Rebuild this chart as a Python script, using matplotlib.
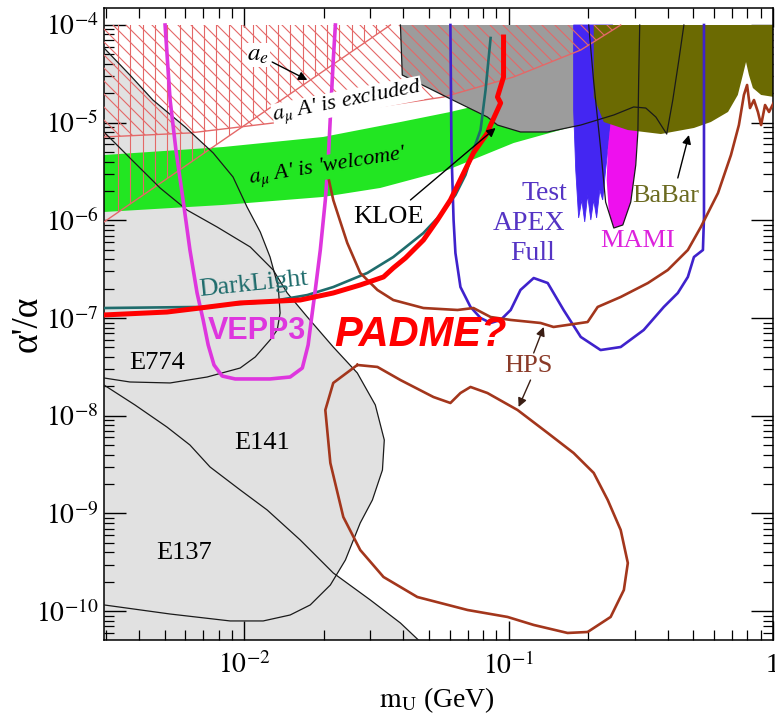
import numpy as np
import matplotlib
matplotlib.use("Agg")
import matplotlib.pyplot as plt
from matplotlib.patches import Polygon
from matplotlib.collections import LineCollection
from matplotlib.ticker import LogLocator, NullFormatter, FuncFormatter

plt.rcParams["font.family"] = ["Liberation Serif", "DejaVu Serif"]
plt.rcParams["mathtext.fontset"] = "stix"

# curves, as log10(m_U / GeV) and log10(alpha'/alpha)
top_la = -4.0  # the published bands stop at 1e-4

e774_lm = [-2.530, -2.432, -2.345, -2.223, -2.117, -2.042, -1.989, -1.939, -1.902, -1.871,
           -1.864, -1.875, -1.902, -1.958, -2.015, -2.140, -2.280, -2.432, -2.530]
e774_la = [-4.235, -4.512, -4.768, -5.044, -5.310, -5.556, -5.863, -6.119, -6.375, -6.682,
           -6.948, -7.122, -7.224, -7.398, -7.511, -7.603, -7.664, -7.654, -7.613]

e141_lm = [-2.530, -2.432, -2.318, -2.216, -2.102, -1.977, -1.890, -1.837, -1.761, -1.663,
           -1.572, -1.504, -1.470, -1.477, -1.515, -1.561, -1.617, -1.674, -1.750, -1.826,
           -1.928, -2.053, -2.280, -2.530]
e141_la = [-5.095, -5.361, -5.668, -5.894, -6.068, -6.272, -6.508, -6.743, -6.989, -7.296,
           -7.562, -7.889, -8.248, -8.555, -8.862, -9.097, -9.476, -9.732, -9.936, -10.039,
           -10.100, -10.100, -10.029, -9.936]

e137_lm = [-2.530, -2.413, -2.292, -2.205, -2.129, -2.015, -1.913, -1.788, -1.663, -1.523, -1.409, -1.30]
e137_la = [-7.685, -7.889, -8.115, -8.299, -8.524, -8.759, -8.964, -9.271, -9.609, -9.885, -10.121, -10.40]

ae_lm = [-2.530, -1.447]
ae_la = [-6.016, -4.000]

amu_lm = [-2.530, -2.205, -1.890, -1.572, -1.246, -0.981, -0.727, -0.576]
amu_la = [-5.146, -5.105, -5.003, -4.870, -4.737, -4.532, -4.256, -4.000]

green_top_lm = [-2.530, -2.080, -1.701, -1.409, -1.220, -1.030, -0.803, -0.652]
green_top_la = [-5.331, -5.249, -5.146, -4.993, -4.890, -4.768, -4.645, -4.563]
green_bot_lm = [-2.530, -2.080, -1.701, -1.485, -1.231, -0.981, -0.777, -0.652]
green_bot_la = [-5.914, -5.842, -5.760, -5.668, -5.484, -5.208, -5.054, -4.972]

kloe_lm = [-1.409, -1.402, -1.227, -1.080, -1.042, -0.955, -0.852, -0.727, -0.602, -0.527,
           -0.481, -0.443, -0.402, -0.379, -0.356, -0.337]
kloe_la = [-4.000, -4.512, -4.747, -4.942, -5.024, -5.095, -5.095, -5.024, -4.921, -4.839,
           -4.850, -4.942, -5.116, -4.768, -4.358, -4.000]

babar_lm = [-0.678, -0.678, -0.640, -0.549, -0.424, -0.299, -0.235, -0.170, -0.133, -0.114,
            -0.102, -0.091, -0.076, -0.045, 0.004, 0.004]
babar_la = [-4.000, -4.737, -4.993, -5.075, -5.116, -5.054, -4.993, -4.890, -4.716, -4.512,
            -4.379, -4.512, -4.645, -4.716, -4.737, -4.000]

test_lm = [-0.754, -0.754, -0.746, -0.735, -0.723, -0.712, -0.701, -0.689, -0.678, -0.667,
           -0.655, -0.644, -0.633, -0.614, -0.606]
test_la = [-4.000, -4.870, -5.484, -5.975, -5.791, -6.016, -5.740, -5.996, -5.791, -5.975,
           -5.689, -5.791, -5.484, -5.024, -4.000]

mami_lm = [-0.697, -0.678, -0.652, -0.633, -0.602, -0.568, -0.538, -0.519, -0.511, -0.508, -0.504]
mami_la = [-4.000, -4.583, -5.259, -5.812, -6.078, -6.047, -5.812, -5.433, -5.095, -4.563, -4.000]
mami_fill_lm = [-0.614, -0.511, -0.519, -0.538, -0.568, -0.602, -0.621, -0.629, -0.625]
mami_fill_la = [-4.993, -5.024, -5.433, -5.812, -6.047, -6.078, -5.914, -5.586, -5.279]

apex_lm = [-1.220, -1.216, -1.208, -1.201, -1.182, -1.144, -1.106, -1.068, -1.030, -0.992,
           -0.955, -0.905, -0.852, -0.792, -0.727, -0.652, -0.576, -0.489, -0.413, -0.360,
           -0.322, -0.299, -0.265, -0.261, -0.261, -0.261]
apex_la = [-4.000, -5.279, -5.996, -6.334, -6.682, -6.886, -6.999, -7.050, -7.019, -6.917,
           -6.712, -6.590, -6.641, -6.917, -7.193, -7.327, -7.296, -7.122, -6.886, -6.743,
           -6.579, -6.375, -6.303, -5.965, -5.279, -4.000]

vepp3_lm = [-2.299, -2.280, -2.258, -2.231, -2.205, -2.178, -2.155, -2.136, -2.114, -2.083,
            -2.034, -1.902, -1.826, -1.780, -1.758, -1.746, -1.731, -1.712, -1.693, -1.682,
            -1.674, -1.663, -1.655]
vepp3_la = [-4.000, -4.768, -5.279, -5.791, -6.303, -6.743, -7.019, -7.275, -7.480, -7.593,
            -7.623, -7.623, -7.603, -7.511, -7.275, -7.019, -6.712, -6.303, -5.791, -5.382,
            -4.942, -4.358, -4.000]

darklight_lm = [-2.530, -2.167, -1.913, -1.761, -1.663, -1.534, -1.436, -1.322, -1.258, -1.201,
                -1.163, -1.133, -1.106, -1.087, -1.068]
darklight_la = [-6.897, -6.886, -6.835, -6.764, -6.682, -6.538, -6.375, -6.129, -5.945, -5.740,
                -5.535, -5.279, -5.075, -4.665, -4.133]

hps_top_lm = [-1.682, -1.663, -1.636, -1.610, -1.561, -1.496, -1.436, -1.322, -1.193, -1.133,
              -1.068, -0.992, -0.879, -0.830, -0.701, -0.663, -0.576, -0.473, -0.398, -0.322,
              -0.273, -0.208, -0.159, -0.129, -0.110, -0.098, -0.087, -0.072, -0.057, -0.045,
              -0.030, -0.015, 0.004]
hps_top_la = [-5.556, -5.791, -6.016, -6.231, -6.538, -6.712, -6.815, -6.897, -6.917, -6.897,
              -6.989, -7.019, -7.050, -7.091, -7.040, -6.886, -6.784, -6.641, -6.508, -6.303,
              -6.068, -5.720, -5.331, -5.024, -4.716, -4.614, -4.850, -4.768, -4.890, -5.024,
              -4.819, -4.890, -4.788]

hps_loop_lm = [-1.572, -1.663, -1.693, -1.674, -1.625, -1.561, -1.473, -1.345, -1.155, -1.004,
               -0.905, -0.777, -0.701, -0.614, -0.564, -0.549, -0.576, -0.625, -0.678, -0.754,
               -0.852, -0.966, -1.080, -1.144, -1.182, -1.220, -1.284, -1.409, -1.496]
hps_loop_la = [-7.480, -7.664, -7.941, -8.483, -9.036, -9.374, -9.650, -9.855, -9.988, -10.059,
               -10.141, -10.223, -10.213, -10.059, -9.783, -9.507, -9.169, -8.862, -8.585, -8.381,
               -8.176, -7.941, -7.767, -7.705, -7.767, -7.869, -7.808, -7.634, -7.500]

padme_lm = [-2.530, -2.292, -2.167, -2.015, -1.788, -1.663, -1.561, -1.473, -1.436, -1.390,
            -1.322, -1.269, -1.220, -1.170, -1.133, -1.080, -1.068, -1.030, -1.042, -1.019, -1.019]
padme_la = [-6.968, -6.938, -6.897, -6.845, -6.815, -6.743, -6.661, -6.579, -6.487, -6.385,
            -6.201, -5.996, -5.791, -5.515, -5.310, -5.105, -5.024, -4.798, -4.737, -4.532, -4.123]

GRAY = "#e1e1e1"
GREEN = "#22e622"
KLOE_GRAY = "#9c9c9c"
OLIVE = "#6b6a02"
BLUE_FILL = "#4426f2"
MAGENTA = "#ee10ee"
HATCH = "#e46868"
APEX_C = "#3f22cc"
VEPP_C = "#de36de"
DL_C = "#1f6c6c"
HPS_C = "#a3361c"


def P(lm, la):
    return np.column_stack([10.0 ** np.asarray(lm, float), 10.0 ** np.asarray(la, float)])


FW, FH = 775, 714
AX = [104 / FW, 74 / FH, 669 / FW, 632 / FH]
fig = plt.figure(figsize=(FW / 100, FH / 100), dpi=100)
ax = fig.add_axes(AX)
ax.set_xscale("log")
ax.set_yscale("log")
ax_w, ax_h = FW * AX[2], FH * AX[3]


def hatch(lm, la, kind):
    clip = Polygon(P(lm, la), closed=True, fill=False, ec="none")
    ax.add_patch(clip)
    if kind == "|":
        xs = np.arange(14.0, ax_w, 12.3) / ax_w
        segs = [[(x, 0), (x, 1)] for x in xs]
    else:
        run = ax_h / ax_w
        xs = np.arange(-ax_h, ax_w, 13.0) / ax_w
        segs = [[(x, 1), (x + run, 0)] for x in xs]
    lc = LineCollection(segs, colors=HATCH, linewidths=0.8, transform=ax.transAxes, zorder=2.6)
    ax.add_collection(lc, autolim=False)
    lc.set_clip_path(clip)


# light grey beam-dump regions
for lm, la in [(e774_lm, e774_la), (e141_lm, e141_la),
               (np.r_[e137_lm, e137_lm[0]], np.r_[e137_la, e137_la[-1]])]:
    ax.add_patch(Polygon(P(lm, la), closed=True, fc=GRAY, ec="none", zorder=1))

# a_mu welcome band
ax.add_patch(Polygon(P(np.r_[green_top_lm, green_bot_lm[::-1]], np.r_[green_top_la, green_bot_la[::-1]]),
                     closed=True, fc=GREEN, ec="none", zorder=1.5))

# KLOE grey
ax.add_patch(Polygon(P(np.r_[kloe_lm[:8], kloe_lm[7]], np.r_[kloe_la[:8], top_la]),
                     closed=True, fc=KLOE_GRAY, ec="none", zorder=2))

# APEX test, MAMI, BaBar fills
ax.add_patch(Polygon(P(test_lm, test_la), closed=True, fc=BLUE_FILL, ec=BLUE_FILL, lw=0.6, zorder=2.2))
ax.add_patch(Polygon(P(mami_fill_lm, mami_fill_la), closed=True, fc=MAGENTA, ec="none", zorder=2.3))
ax.add_patch(Polygon(P(babar_lm, babar_la), closed=True, fc=OLIVE, ec="none", zorder=2.4))

# g-2 hatched regions
hatch(np.r_[ae_lm, ae_lm[0]], np.r_[ae_la, top_la], "|")
hatch(np.r_[amu_lm, amu_lm[0]], np.r_[amu_la, top_la], "\\")
ax.plot(*P(ae_lm, ae_la).T, color=HATCH, lw=1.0, zorder=2.7)
ax.plot(*P(amu_lm, amu_la).T, color=HATCH, lw=1.0, zorder=2.7)

# thin black outlines
for lm, la in [(e774_lm, e774_la), (e141_lm, e141_la), (e137_lm, e137_la),
               (kloe_lm, kloe_la), (mami_lm, mami_la)]:
    ax.plot(*P(lm, la).T, color="#1a1a1a", lw=0.9, zorder=3)

# experiment curves
ax.plot(*P(darklight_lm, darklight_la).T, color=DL_C, lw=1.9, zorder=4)
ax.plot(*P(vepp3_lm, vepp3_la).T, color=VEPP_C, lw=2.6, zorder=4, solid_joinstyle="round")
ax.plot(*P(apex_lm, apex_la).T, color=APEX_C, lw=1.9, zorder=4, solid_joinstyle="round")
ax.plot(*P(hps_top_lm, hps_top_la).T, color=HPS_C, lw=1.9, zorder=4, solid_joinstyle="round")
ax.plot(*P(np.r_[hps_loop_lm, hps_loop_lm[0]], np.r_[hps_loop_la, hps_loop_la[0]]).T,
        color=HPS_C, lw=1.9, zorder=4, solid_joinstyle="round")
ax.plot(*P(padme_lm, padme_la).T, color="#ff0000", lw=3.6, zorder=5, solid_joinstyle="round")


def T(lm, la, s, **kw):
    kw.setdefault("ha", "center")
    kw.setdefault("va", "center")
    kw.setdefault("zorder", 7)
    ax.text(10 ** lm, 10 ** la, s, **kw)


def arrow(t, h, color="black"):
    ax.annotate("", xy=(10 ** h[0], 10 ** h[1]), xytext=(10 ** t[0], 10 ** t[1]),
                arrowprops=dict(arrowstyle="-|>", color=color, lw=1.0, mutation_scale=13,
                                shrinkA=0, shrinkB=0), zorder=7)


T(-1.947, -4.307, r"$a_e$", fontsize=18, bbox=dict(fc="white", ec="none", pad=0.5))
arrow((-1.894, -4.379), (-1.761, -4.563))
T(-1.610, -4.788, r"$a_\mu$ A' is excluded", fontsize=16, style="italic", rotation=11,
  bbox=dict(fc="white", ec="none", pad=0.3))
T(-1.682, -5.453, r"$a_\mu$ A' is 'welcome'", fontsize=16, style="italic", rotation=9,
  bbox=dict(fc=GREEN, ec="none", pad=0.3))
T(-1.455, -5.965, "KLOE", fontsize=19)
arrow((-1.371, -5.791), (-1.049, -5.054))
T(-0.864, -5.720, "Test", fontsize=20, color="#5534c4")
T(-0.924, -6.030, "APEX", fontsize=20, color="#5534c4")
T(-0.909, -6.340, "Full", fontsize=20, color="#5534c4")
T(-0.511, -6.211, "MAMI", fontsize=19, color="#dd22dd")
T(-0.405, -5.750, "BaBar", fontsize=19, color="#6b6a20")
arrow((-0.360, -5.566), (-0.318, -5.126))
T(-0.924, -7.490, "HPS", fontsize=19, color="#8a3a28")
arrow((-0.905, -7.357), (-0.867, -7.091), color="#3a1e14")
arrow((-0.917, -7.634), (-0.962, -7.910), color="#3a1e14")
T(-2.330, -7.460, "E774", fontsize=19)
T(-1.932, -8.278, "E141", fontsize=19)
T(-2.227, -9.404, "E137", fontsize=19)
T(-1.966, -6.651, "DarkLight", fontsize=19, color=DL_C, rotation=6)
T(-1.951, -7.132, "VEPP3", fontsize=22, color=VEPP_C, fontweight="bold", family="Liberation Sans")
T(-1.333, -7.173, "PADME?", fontsize=30, color="#ff0000", fontweight="bold", style="italic",
  family="Liberation Sans")

ax.set_xlim(10 ** -2.53, 1.0)
ax.set_ylim(10 ** -10.295, 10 ** -3.826)


def fmt(v, pos):
    e = int(round(np.log10(v)))
    return "1" if e == 0 else r"$10^{%d}$" % e


for axis in (ax.xaxis, ax.yaxis):
    axis.set_major_locator(LogLocator(base=10, numticks=20))
    axis.set_minor_locator(LogLocator(base=10, subs=np.arange(2, 10), numticks=20))
    axis.set_major_formatter(FuncFormatter(fmt))
    axis.set_minor_formatter(NullFormatter())

ax.tick_params(which="both", direction="in", top=True, right=True, colors="black")
ax.tick_params(which="major", width=1.0, labelsize=20)
ax.tick_params(which="minor", width=0.9, length=7.5)
ax.tick_params(axis="x", which="major", length=14, pad=9)
ax.tick_params(axis="y", which="major", length=16, pad=4)
for sp in ax.spines.values():
    sp.set_linewidth(1.1)

ax.set_xlabel(r"$\mathrm{m}_\mathrm{U}$ (GeV)", fontsize=20)
ax.xaxis.label.set_va("center")
ax.xaxis.set_label_coords(0.497, -0.095)
ax.set_ylabel("α'/α", fontsize=27)
ax.yaxis.label.set_va("center")
ax.yaxis.set_label_coords(-0.114, 0.5)

fig.savefig("out.png", dpi=100)
